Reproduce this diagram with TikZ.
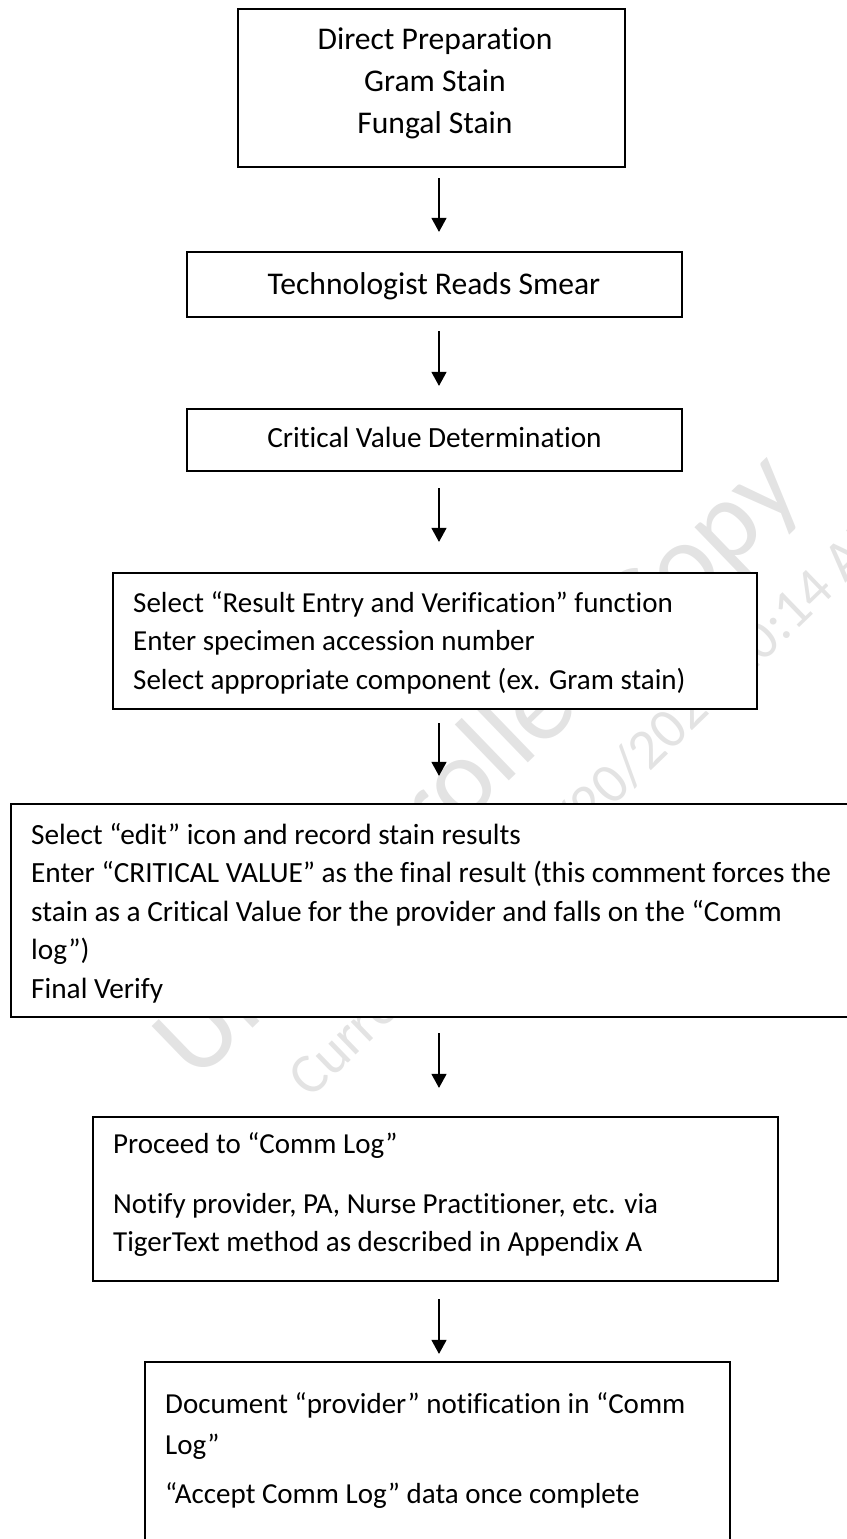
\documentclass[tikz,border=0pt]{standalone}
\usepackage{fontspec}
\setmainfont{Carlito}[Ligatures={NoCommon}]
\usetikzlibrary{arrows.meta,calc}
\begin{document}
\begin{tikzpicture}[x=1pt,y=-1pt,
  box/.style={draw, line width=2.2pt, fill=white, inner sep=0pt, rectangle},
  txt/.style={inner sep=0pt},
  flow/.style={-{Triangle[length=14pt,width=15pt]}, line width=1.3pt},
  wm/.style={inner sep=0pt, text=black!11, rotate=44, anchor=base west}]
\useasboundingbox (0,0) rectangle (846,1539);

% faint background stamp, partly covered by the boxes
\node[wm, font=\fontsize{112}{112}\selectfont] (stampa) at (196,1084) {Uncontrolled Copy};
\node[wm, font=\fontsize{57}{57}\selectfont] (stampb) at (310,1100) {Current as of 10/20/2020 10:14 AM};

% boxes
\node[box, minimum width=387pt, minimum height=158pt] (b1) at (431.5,88) {};
\node[box, minimum width=495pt, minimum height=65pt] (b2) at (434.5,284.5) {};
\node[box, minimum width=495pt, minimum height=62pt] (b3) at (434.5,440) {};
\node[box, minimum width=644pt, minimum height=136pt] (b4) at (435,641) {};
\node[box, minimum width=869pt, minimum height=213pt] (b5) at (445.5,910.5) {};
\node[box, minimum width=685pt, minimum height=164pt] (b6) at (435.5,1199) {};
\node[box, minimum width=585pt, minimum height=218pt] (b7) at (437.5,1471) {};

% texts
\node[txt, anchor=base, font=\fontsize{31.6}{42}\selectfont] (t1) at (435,49)
  {\begin{tabular}[t]{@{}c@{}}Direct Preparation\\ Gram Stain\\ Fungal Stain\end{tabular}};
\node[txt, anchor=base, font=\fontsize{31.6}{38}\selectfont] (t2) at (434,294) {Technologist Reads Smear};
\node[txt, anchor=base, font=\fontsize{29.3}{36}\selectfont] (t3) at (434.5,447) {Critical Value Determination};
\node[txt, anchor=base west, font=\fontsize{29}{38.5}\selectfont] (t4) at (133,612)
  {\begin{tabular}[t]{@{}l@{}}Select “Result Entry and Verification” function\\
   Enter specimen accession number\\
   Select appropriate component (ex. Gram stain)\end{tabular}};
\node[txt, anchor=base west, font=\fontsize{29.3}{38.5}\selectfont] (t5) at (31,844)
  {\begin{tabular}[t]{@{}l@{}}Select “edit” icon and record stain results\\
   Enter “CRITICAL VALUE” as the final result (this comment forces the\\
   stain as a Critical Value for the provider and falls on the “Comm\\
   log”)\\
   Final Verify\end{tabular}};
\node[txt, anchor=base west, font=\fontsize{29}{38.5}\selectfont] (t6) at (113,1153)
  {\begin{tabular}[t]{@{}l@{}}Proceed to “Comm Log”\\[21.5pt]
   Notify provider, PA, Nurse Practitioner, etc. via\\
   TigerText method as described in Appendix A\end{tabular}};
\node[txt, anchor=base west, font=\fontsize{29}{41}\selectfont] (t7) at (165,1413)
  {\begin{tabular}[t]{@{}l@{}}Document “provider” notification in “Comm\\
   Log”\\[8pt]
   “Accept Comm Log” data once complete\end{tabular}};

% connectors
\draw[flow, shorten <=10pt, shorten >=19pt] ([xshift=7.5pt]b1.south) -- ([xshift=4.5pt]b2.north);
\draw[flow, shorten <=13pt, shorten >=22pt] ([xshift=4.5pt]b2.south) -- ([xshift=4.5pt]b3.north);
\draw[flow, shorten <=16pt, shorten >=30pt] ([xshift=4.5pt]b3.south) -- ([xshift=4pt]b4.north);
\draw[flow, shorten <=13pt, shorten >=27pt] ([xshift=4pt]b4.south) -- ([xshift=-6.5pt]b5.north);
\draw[flow, shorten <=15pt, shorten >=28pt] ([xshift=-6.5pt]b5.south) -- ([xshift=3.5pt]b6.north);
\draw[flow, shorten <=17pt, shorten >=7pt] ([xshift=3.5pt]b6.south) -- ([xshift=1.5pt]b7.north);
\end{tikzpicture}
\end{document}
